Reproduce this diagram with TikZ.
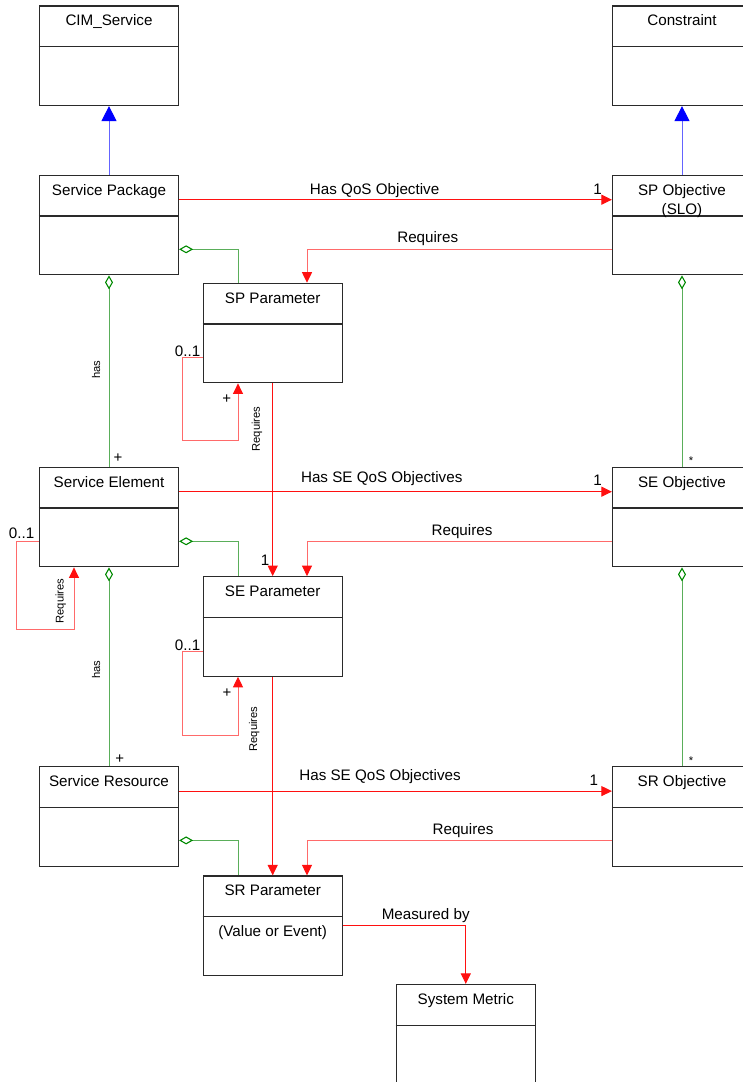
\documentclass[tikz,border=0pt]{standalone}
\usepackage{fontspec}
\setmainfont{Liberation Sans}
\usetikzlibrary{arrows.meta,calc}

\definecolor{boxgray}{HTML}{2A2A2A}
\definecolor{linkred}{HTML}{FF1010}
\definecolor{softred}{HTML}{FF6A6A}
\definecolor{aggline}{HTML}{5AAE5A}
\definecolor{aggdark}{HTML}{008A00}
\definecolor{genline}{HTML}{6464FF}

\tikzset{
  classbox/.style={draw=boxgray, line width=1.2pt, minimum width=139pt,
    minimum height=99.5pt, inner sep=0pt, fill=white},
  boxline/.style={draw=boxgray, line width=1.2pt},
  classtitle/.style={anchor=base, inner sep=0pt, font=\fontsize{15.2}{18}\selectfont},
  lbl/.style={anchor=base, inner sep=0pt, font=\fontsize{15.2}{18}\selectfont},
  smalllbl/.style={inner sep=0pt, font=\fontsize{11.2}{13}\selectfont},
  marklbl/.style={anchor=base, inner sep=0pt, font=\fontsize{15}{18}\selectfont},
  assoc/.style={draw=linkred, line width=1pt, -{Triangle[length=10.5pt,width=10pt,color=linkred]}},
  assocsoft/.style={draw=softred, line width=1pt, -{Triangle[length=10.5pt,width=10pt,color=linkred]}},
  aggr/.style={draw=aggline, line width=1pt, {Diamond[open,length=14pt,width=8pt,color=aggdark,line width=1.1pt]}-},
  gen/.style={draw=genline, line width=1pt, -{Triangle[length=15pt,width=15pt,color=blue]}},
}

% a UML class: name, centre x, top y, title
\newcommand\umlclass[4]{%
  \node[classbox] (#1) at (#2,#3+49.75) {};
  \draw[boxline] ([yshift=-41.3pt]#1.north west) -- ([yshift=-41.3pt]#1.north east);
  \node[classtitle] (#1-title) at ([yshift=-20.5pt]#1.north) {#4};
}

\begin{document}
\begin{tikzpicture}[x=1pt, y=-1pt]
  \useasboundingbox (0,0) rectangle (743,1082);
  \fill[white] (0,0) rectangle (743,1082);
  \clip (0,0) rectangle (743,1082);

  % classes
  \umlclass{cim}{109}{6}{CIM\_Service}
  \umlclass{constr}{682}{6}{Constraint}
  \umlclass{spack}{109}{175.3}{Service Package}
  \umlclass{spobj}{682}{175.3}{SP Objective}
  \node[classtitle] (spobj-slo) at ([yshift=-39.5pt]spobj.north) {(SLO)};
  \umlclass{sppar}{272.7}{283.3}{SP Parameter}
  \umlclass{selem}{109}{467.3}{Service Element}
  \umlclass{seobj}{682}{467.3}{SE Objective}
  \umlclass{separ}{272.7}{576.7}{SE Parameter}
  \umlclass{sres}{109}{766.7}{Service Resource}
  \umlclass{srobj}{682}{766.7}{SR Objective}
  \umlclass{srpar}{272.7}{876}{SR Parameter}
  \node[classtitle] (srpar-attr) at ([yshift=-60.7pt]srpar.north) {(Value or Event)};
  \umlclass{sysmet}{465.8}{984.5}{System Metric}

  % generalisation
  \draw[gen] (spack.north) -- (cim.south);
  \draw[gen] (spobj.north) -- (constr.south);

  % objectives
  \draw[assoc] ([yshift=-25pt]spack.north east) -- ([yshift=-25pt]spobj.north west);
  \draw[assoc] ([yshift=-25pt]selem.north east) -- ([yshift=-25pt]seobj.north west);
  \draw[assoc] ([yshift=-25pt]sres.north east) -- ([yshift=-25pt]srobj.north west);

  % objectives require parameters
  \draw[assocsoft] ([yshift=-74.6pt]spobj.north west) -| ([xshift=34.3pt]sppar.north);
  \draw[assocsoft] ([yshift=-74.4pt]seobj.north west) -| ([xshift=34.3pt]separ.north);
  \draw[assocsoft] ([yshift=-74.3pt]srobj.north west) -| ([xshift=34.3pt]srpar.north);

  % parameter aggregation
  \draw[aggr] ([yshift=-74.6pt]spack.north east) -| ([xshift=-34.7pt]sppar.north);
  \draw[aggr] ([yshift=-74.6pt]selem.north east) -| ([xshift=-34.7pt]separ.north);
  \draw[aggr] ([yshift=-74.3pt]sres.north east) -| ([xshift=-34.7pt]srpar.north);

  % "has" composition chains
  \draw[aggr] (spack.south) -- (selem.north);
  \draw[aggr] (selem.south) -- (sres.north);
  \draw[aggr] (spobj.south) -- (seobj.north);
  \draw[aggr] (seobj.south) -- (srobj.north);

  % parameter chain
  \draw[assoc] (sppar.south) -- (separ.north);
  \draw[assoc] (separ.south) -- (srpar.north);
  \draw[assoc] (srpar.east) -| (sysmet.north);

  % self references
  \draw[assocsoft] ([yshift=-75pt]sppar.north west) -- ++(-20.5,0)
    |- ([xshift=-34.7pt,yshift=-57pt]sppar.south) -- ([xshift=-34.7pt]sppar.south);
  \draw[assocsoft] ([yshift=-75pt]separ.north west) -- ++(-20.5,0)
    |- ([xshift=-34.7pt,yshift=-58.5pt]separ.south) -- ([xshift=-34.7pt]separ.south);
  \draw[assocsoft] ([yshift=-74.7pt]selem.north west) -- ++(-22,0)
    |- ([xshift=-35pt,yshift=-61.6pt]selem.south) -- ([xshift=-35pt]selem.south);

  % association labels
  \node[lbl] (l-hasqos) at (374.6,194.3) {Has QoS Objective};
  \node[lbl] (l-one1) at (597.7,194.3) {1};
  \node[lbl] (l-req1) at (427.7,242.7) {Requires};
  \node[lbl] (l-hasse) at (381.7,482.7) {Has SE QoS Objectives};
  \node[lbl] (l-one2) at (597.7,485.5) {1};
  \node[lbl] (l-req2) at (462,535) {Requires};
  \node[lbl] (l-hassr) at (380,780) {Has SE QoS Objectives};
  \node[lbl] (l-one3) at (593.8,785.5) {1};
  \node[lbl] (l-req3) at (463,834) {Requires};
  \node[lbl] (l-meas) at (425.7,919.3) {Measured by};
  \node[lbl] (l-one4) at (265,565) {1};

  % multiplicities
  \node[lbl, anchor=base east] (m-sp01) at (200.5,356) {0..1};
  \node[lbl, anchor=base east] (m-se01) at (34.5,538.3) {0..1};
  \node[lbl, anchor=base east] (m-sep01) at (200.5,650.5) {0..1};
  \node[marklbl] (m-plus1) at (118,462.5) {+};
  \node[marklbl] (m-plus2) at (226.8,403.5) {+};
  \node[marklbl] (m-plus3) at (119.8,763.5) {+};
  \node[marklbl] (m-plus4) at (227,697) {+};
  \node[smalllbl, anchor=base] (m-star1) at (691,464) {*};
  \node[smalllbl, anchor=base] (m-star2) at (691,764) {*};

  % rotated labels
  \node[smalllbl, rotate=90] (r-has1) at (96,369.5) {has};
  \node[smalllbl, rotate=90] (r-has2) at (96,669.5) {has};
  \node[smalllbl, rotate=90] (r-req1) at (257,429) {Requires};
  \node[smalllbl, rotate=90] (r-req2) at (60.8,601) {Requires};
  \node[smalllbl, rotate=90] (r-req3) at (254.2,729) {Requires};
\end{tikzpicture}
\end{document}
